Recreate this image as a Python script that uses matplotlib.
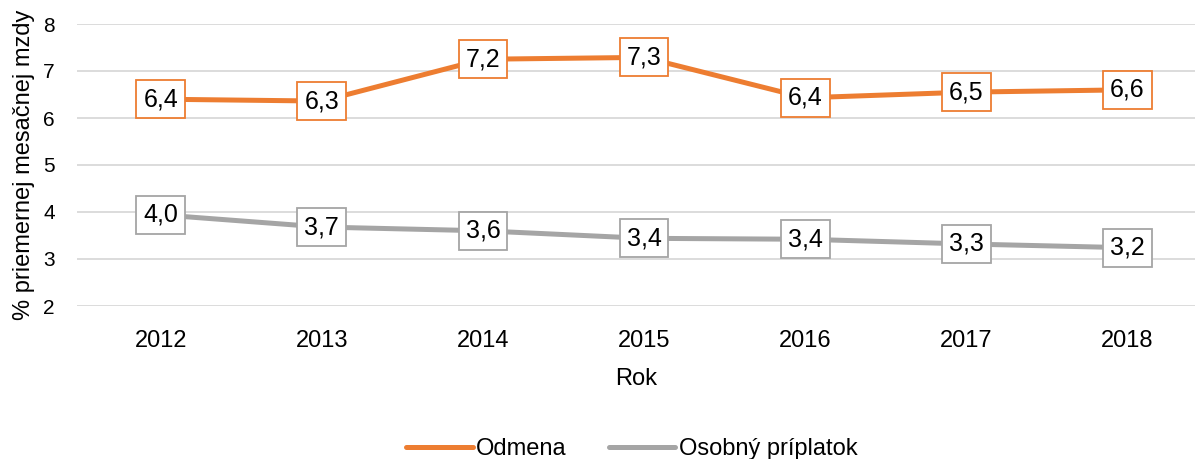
import matplotlib
matplotlib.use("Agg")
import matplotlib.pyplot as plt

# Data
years = ["2012", "2013", "2014", "2015", "2016", "2017", "2018"]
odmena = [6.40, 6.36, 7.25, 7.29, 6.43, 6.55, 6.60]
odmena_labels = ["6,4", "6,3", "7,2", "7,3", "6,4", "6,5", "6,6"]
priplatok = [3.94, 3.68, 3.60, 3.44, 3.42, 3.32, 3.24]
priplatok_labels = ["4,0", "3,7", "3,6", "3,4", "3,4", "3,3", "3,2"]

ORANGE = "#ED7D31"
GRAY = "#A5A5A5"
GRID = "#D9D9D9"

plt.rcParams["font.family"] = ["Liberation Sans Narrow", "Liberation Sans", "DejaVu Sans"]

fig = plt.figure(figsize=(11.95, 4.59), dpi=100)
ax = fig.add_axes([77 / 1195, 1 - 306 / 459, 1 - 77 / 1195, (306 - 24) / 459])

x = list(range(len(years)))
ax.plot(x, odmena, color=ORANGE, linewidth=3.6, label="Odmena", zorder=3,
        solid_capstyle="round")
ax.plot(x, priplatok, color=GRAY, linewidth=3.6, label="Osobný príplatok", zorder=3,
        solid_capstyle="round")

for xi, v, t in zip(x, odmena, odmena_labels):
    ax.text(xi, v, t, ha="center", va="center", fontsize=18, color="black", zorder=5,
            bbox=dict(boxstyle="square,pad=0.28", fc="white", ec=ORANGE, lw=1.3))
for xi, v, t in zip(x, priplatok, priplatok_labels):
    ax.text(xi, v, t, ha="center", va="center", fontsize=18, color="black", zorder=5,
            bbox=dict(boxstyle="square,pad=0.28", fc="white", ec=GRAY, lw=1.3))

ax.set_xlim(-0.52, 6.42)
ax.set_ylim(2, 8)
ax.set_yticks(range(2, 9))
ax.set_xticks(x)
ax.set_xticklabels(years)
ax.tick_params(axis="x", length=0, labelsize=17, pad=17)
ax.tick_params(axis="y", length=0, labelsize=15, pad=16)
ax.grid(axis="y", color=GRID, linewidth=1.3)
ax.set_axisbelow(True)
for s in ax.spines.values():
    s.set_visible(False)

ax.set_xlabel("Rok", fontsize=17, labelpad=12)
ax.set_ylabel("% priemernej mesačnej mzdy", fontsize=17, labelpad=6)

ax.legend(loc="lower center", bbox_to_anchor=(0.5 - 4 / 1118, -0.58), ncol=2,
          frameon=False, fontsize=17, handlelength=2.8, handletextpad=0.15,
          columnspacing=1.8, borderaxespad=0)

fig.savefig("out.png", dpi=100)
